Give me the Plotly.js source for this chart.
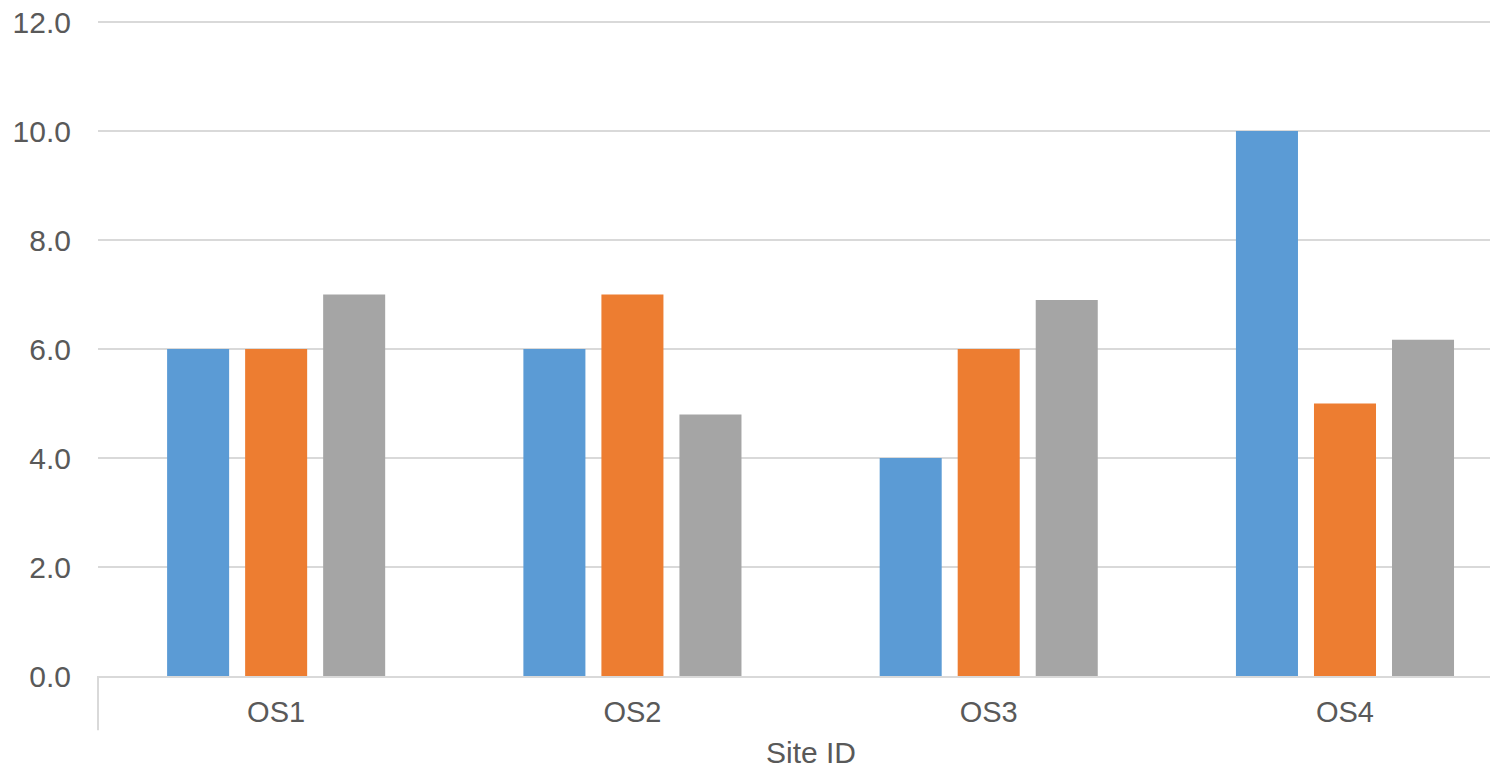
<!DOCTYPE html>
<html>
<head>
<meta charset="utf-8">
<script src="https://cdn.plot.ly/plotly-3.0.1.min.js"></script>
<style>html,body{margin:0;padding:0;background:#fff;}#chart{width:1490px;height:770px;}</style>
</head>
<body>
<div id="chart"></div>
<script>
var categories = ["OS1", "OS2", "OS3", "OS4"];
var seriesA = [6.0, 6.0, 4.0, 10.0];
var seriesB = [6.0, 7.0, 6.0, 5.0];
var seriesC = [7.0, 4.8, 6.9, 6.17];
var yTickVals = [0, 2, 4, 6, 8, 10, 12];
var yTickText = ["0.0", "2.0", "4.0", "6.0", "8.0", "10.0", "12.0"];
var xTitle = "Site ID";

var font = "Liberation Sans, Arial, sans-serif";
var textColor = "#595959";

var traces = [
  {type: "bar", x: categories, y: seriesA, name: "Series 1", marker: {color: "#5B9BD5"}},
  {type: "bar", x: categories, y: seriesB, name: "Series 2", marker: {color: "#ED7D31"}},
  {type: "bar", x: categories, y: seriesC, name: "Series 3", marker: {color: "#A5A5A5"}}
];

var layout = {
  width: 1490, height: 770,
  margin: {l: 98, r: 0, t: 21, b: 94, pad: 0},
  paper_bgcolor: "#ffffff", plot_bgcolor: "#ffffff",
  showlegend: false,
  barmode: "group",
  bargap: 0.343,
  bargroupgap: 0.205,
  font: {family: font, size: 30, color: textColor},
  xaxis: {
    range: [-0.5, 3.407],
    showgrid: false,
    showline: true, linecolor: "#d9d9d9", linewidth: 2,
    ticks: "", ticklabelstandoff: 9,
    tickfont: {family: font, size: 29, color: textColor},
    fixedrange: true
  },
  yaxis: {
    range: [0, 12.02],
    tickvals: yTickVals, ticktext: yTickText,
    showgrid: true, gridcolor: "#d9d9d9", gridwidth: 2,
    zeroline: false, showline: false,
    ticks: "", ticklabelstandoff: 26,
    tickfont: {family: font, size: 30, color: textColor},
    fixedrange: true
  },
  annotations: [
    {text: xTitle, xref: "x", yref: "paper", x: 1.5, y: -0.117, yanchor: "middle", xanchor: "center",
     showarrow: false, font: {family: font, size: 30, color: textColor}}
  ],
  shapes: [
    {type: "line", xref: "paper", yref: "paper", x0: 0, x1: 0, y0: 0, y1: -0.083,
     line: {color: "#d9d9d9", width: 2}}
  ]
};

Plotly.newPlot("chart", traces, layout, {displayModeBar: false, staticPlot: true});
</script>
</body>
</html>
